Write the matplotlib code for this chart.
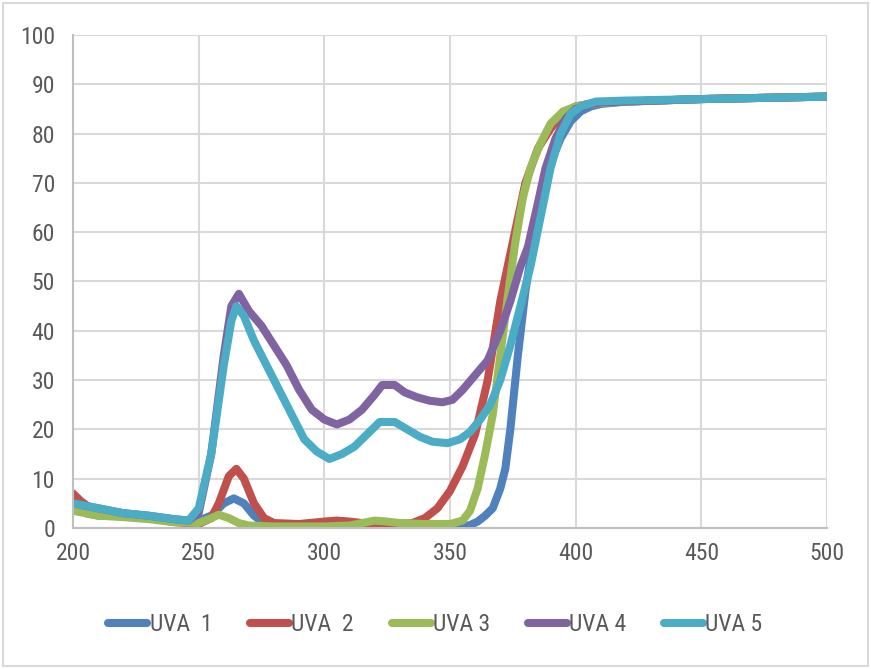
import matplotlib
matplotlib.use('Agg')
import matplotlib.pyplot as plt
from matplotlib.patches import Rectangle

plt.rcParams['font.family'] = ['Roboto Condensed', 'Liberation Sans Narrow', 'Arial Narrow',
                               'Liberation Sans', 'DejaVu Sans']

# wavelength (nm) / transmittance (%)
wl_1 = [200, 205, 210, 220, 230, 240, 245, 250, 255, 260, 264, 268, 272, 276, 280, 300, 330, 355,
        358, 361, 364, 367, 370, 372, 374, 377, 380, 383, 386, 390, 394, 398, 402, 406, 410, 420, 450, 500]
uva_1 = [5, 3, 2.5, 2.5, 2, 1.5, 1.2, 1.5, 2.5, 5, 6, 5, 2.5, 1, 0.5, 0.3, 0.3, 0.3,
         0.6, 1.3, 2.5, 4, 8, 12, 20, 35, 48, 58, 66, 74, 79, 82.5, 84.5, 85.5, 86, 86.5, 87, 87.5]

wl_2 = [200, 203, 207, 212, 220, 230, 240, 250, 255, 258, 262, 265, 268, 272, 276, 280, 290, 300, 305,
        310, 315, 320, 325, 330, 335, 340, 345, 350, 355, 360, 365, 370, 375, 380, 385, 390, 395, 400,
        405, 410, 420, 450, 500]
uva_2 = [7, 5.5, 4, 3.5, 3, 2, 1.2, 0.8, 2, 5, 10.5, 12, 10, 5, 2, 1, 0.8, 1.3, 1.5,
         1.3, 1, 1, 0.8, 0.8, 1, 2, 4, 7.5, 12.5, 19, 30, 46, 58, 70, 77, 81, 84, 85.5,
         86, 86.2, 86.5, 87, 87.5]

wl_3 = [200, 205, 210, 220, 230, 240, 250, 255, 258, 262, 266, 270, 280, 300, 310, 315, 320, 325, 330,
        340, 350, 355, 358, 361, 364, 367, 370, 373, 376, 379, 382, 386, 390, 395, 400, 405, 410, 420,
        450, 500]
uva_3 = [3.5, 3, 2.5, 2.2, 1.8, 1.2, 1, 2, 2.7, 2, 1, 0.5, 0.3, 0.3, 0.5, 1, 1.5, 1.3, 1,
         0.8, 0.8, 1.5, 3.5, 8, 15, 23, 35, 47, 58, 67, 73, 78, 82, 84.5, 85.5, 86, 86.2, 86.5,
         87, 87.5]

wl_4 = [200, 205, 210, 220, 230, 240, 246, 250, 255, 260, 263, 266, 270, 275, 280, 285, 290, 295, 300,
        305, 310, 315, 320, 323, 328, 332, 337, 342, 347, 351, 355, 360, 365, 370, 374, 378, 381, 385,
        388, 392, 396, 400, 405, 410, 420, 450, 500]
uva_4 = [5, 4.5, 4, 3, 2.5, 1.8, 1.5, 3, 15, 35, 45, 47.5, 44, 41, 37, 33, 28, 24, 22,
         21, 22, 24, 27, 29, 29, 27.5, 26.5, 25.8, 25.5, 26, 28, 31, 34, 40, 46, 53, 57, 66,
         73, 79, 83, 85, 86, 86.3, 86.5, 87, 87.5]

wl_5 = [200, 205, 210, 220, 230, 240, 246, 250, 255, 260, 263, 265, 268, 272, 277, 282, 287, 292, 297,
        302, 307, 312, 317, 322, 328, 333, 338, 343, 349, 354, 358, 362, 366, 370, 374, 378, 382, 386,
        390, 394, 398, 402, 408, 420, 450, 500]
uva_5 = [5, 4.5, 4, 3, 2.5, 1.8, 1.5, 4, 15, 33, 42, 45, 43, 38, 33, 28, 23, 18, 15.5,
         14, 15, 16.5, 19, 21.5, 21.5, 20, 18.5, 17.5, 17.2, 18, 19.5, 22, 25, 30, 37, 45, 53, 63,
         73, 80, 84, 85.5, 86.5, 86.7, 87, 87.5]

series = [
    ('UVA  1', wl_1, uva_1, '#4F81BD'),
    ('UVA  2', wl_2, uva_2, '#C0504D'),
    ('UVA 3', wl_3, uva_3, '#9BBB59'),
    ('UVA 4', wl_4, uva_4, '#8064A2'),
    ('UVA 5', wl_5, uva_5, '#4BACC6'),
]

fig = plt.figure(figsize=(8.71, 6.69), dpi=100)
ax = fig.add_axes([0.0838, 0.2108, 0.8657, 0.7369])

for name, x, y, col in series:
    ax.plot(x, y, color=col, lw=5.8, label=name, solid_capstyle='round', solid_joinstyle='round')

ax.set_xlim(200, 500)
ax.set_ylim(0, 100)
ax.set_xticks(range(200, 501, 50))
ax.set_yticks(range(0, 101, 10))
ax.grid(True, color='#D9D9D9', lw=1.5)
ax.set_axisbelow(True)
for s in ['top', 'right']:
    ax.spines[s].set_visible(False)
for s in ['left', 'bottom']:
    ax.spines[s].set_color('#BFBFBF')
    ax.spines[s].set_linewidth(1.5)
ax.tick_params(length=0, labelsize=17, colors='#595959')
ax.tick_params(axis='y', pad=13)
ax.tick_params(axis='x', pad=10)

leg = fig.legend(loc='center', bbox_to_anchor=(0.5, 0.066), ncol=5, frameon=False,
                 fontsize=17, handlelength=1.65, handletextpad=0.1, columnspacing=1.6)
for t in leg.get_texts():
    t.set_color('#595959')

fig.patches.append(Rectangle((0.003, 0.004), 0.994, 0.992, transform=fig.transFigure,
                             fill=False, edgecolor='#D9D9D9', lw=1.5))

fig.savefig('out.png', dpi=100)
